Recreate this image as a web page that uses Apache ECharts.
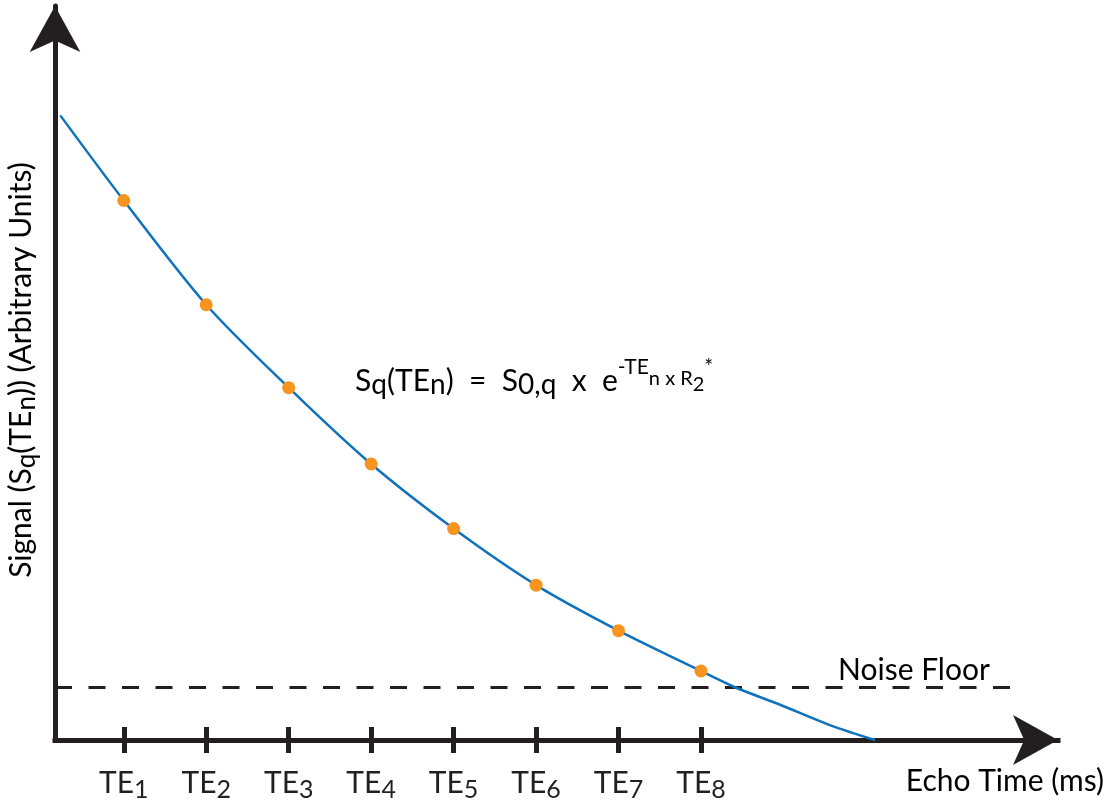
<!DOCTYPE html>
<html>
<head>
<meta charset="utf-8">
<script src="https://cdn.jsdelivr.net/npm/echarts@6/dist/echarts.min.js"></script>
<style>
html,body{margin:0;padding:0;background:#ffffff;}
#chart{width:1112px;height:803px;}
</style>
</head>
<body>
<div id="chart"></div>
<script>
// ---------- data ----------
const teValues = [1, 2, 3, 4, 5, 6, 7, 8];
const teSubscripts = ['1', '2', '3', '4', '5', '6', '7', '8'];
const sampleSignal = [73.5, 59.3, 48.0, 37.6, 28.8, 21.1, 14.9, 9.4];
const curveTE = [0.23, 1, 2, 3, 4, 5, 6, 7, 8, 8.42, 8.96, 9.57, 10.11];
const curveSignal = [85.1, 73.5, 59.3, 48.0, 37.6, 28.8, 21.1, 14.9, 9.4, 7.15, 4.8, 2.0, 0];
const noiseFloorTE = [0.166, 11.81];
const noiseFloorLevel = 7.15;
const xRange = [0.166, 12.33];
const yRange = [0, 100];

// ---------- style ----------
const INK = '#231f20';
const BLUE = '#0f72bd';
const ORANGE = '#f7941d';
const FONT = 'Lato';
const K = 0.387;   // baseline offset below em-middle, in em
const BOX = 80;    // common token box height so every token aligns identically

// rich token whose baseline sits dy px below the line top
function tok(fs, dy) {
  const top = Math.max(0, dy - (0.5 + K) * fs);
  return {
    fontSize: fs, fontFamily: FONT, color: INK, verticalAlign: 'top',
    padding: [top, 0, Math.max(0, BOX - fs - top), 0]
  };
}

const chart = echarts.init(document.getElementById('chart'), null, { renderer: 'canvas' });

const curveData = curveTE.map((x, i) => [x, curveSignal[i]]);
const sampleData = teValues.map((x, i) => [x, sampleSignal[i]]);
const noiseData = noiseFloorTE.map(x => [x, noiseFloorLevel]);

const axisBase = {
  type: 'value', min: xRange[0], max: xRange[1], position: 'bottom',
  splitLine: { show: false }
};

const option = {
  backgroundColor: '#ffffff',
  animation: false,
  grid: { left: 55, right: 54, top: 6, bottom: 63, containLabel: false, outerBoundsMode: 'none' },
  xAxis: [
    Object.assign({}, axisBase, {
      axisLine: {
        show: true, onZero: false,
        symbol: ['none', 'arrow'], symbolSize: [37.5, 45],
        lineStyle: { color: INK, width: 5, cap: 'square' }
      },
      axisTick: { show: true, customValues: teValues, length: 13, lineStyle: { color: INK, width: 5 } },
      axisLabel: {
        show: true, customValues: teValues, margin: 20,
        formatter: v => '{m|TE}{s|' + teSubscripts[teValues.indexOf(v)] + '}',
        rich: { m: tok(30, 35), s: tok(25, 40) }
      }
    }),
    Object.assign({}, axisBase, {
      axisLine: { show: false, onZero: false },
      axisTick: { show: true, inside: true, customValues: teValues, length: 13, lineStyle: { color: INK, width: 5 } },
      axisLabel: { show: false }
    })
  ],
  yAxis: {
    type: 'value', min: yRange[0], max: yRange[1],
    axisLine: {
      show: true, onZero: false,
      symbol: ['none', 'arrow'], symbolSize: [38, 46],
      lineStyle: { color: INK, width: 5 }
    },
    axisTick: { show: false },
    axisLabel: { show: false },
    splitLine: { show: false }
  },
  series: [
    {
      type: 'line', data: noiseData, symbol: 'none', z: 1,
      lineStyle: { color: INK, width: 3, type: [17, 16.5] }
    },
    {
      type: 'line', data: curveData, symbol: 'none', smooth: 0.3, z: 2,
      lineStyle: { color: BLUE, width: 2.5 }
    },
    {
      type: 'scatter', data: sampleData, symbol: 'circle', symbolSize: 13, z: 3,
      itemStyle: { color: ORANGE, opacity: 1 }
    }
  ],
  graphic: [
    {
      type: 'text', x: 838, y: 644, z: 10,
      style: { text: '{m|Noise Floor}', align: 'left', verticalAlign: 'top', rich: { m: tok(30, 37.7) } }
    },
    {
      type: 'text', x: 1104, y: 755, z: 10,
      style: { text: '{m|Echo Time (ms)}', align: 'right', verticalAlign: 'top', rich: { m: tok(30, 38) } }
    },
    {
      type: 'text', x: 355, y: 345, z: 10,
      style: {
        text: '{m|S}{s|q}{m|(TE}{s|n}{m|)  =  S}{s|0,q}{m|  x  e}{p|-TE}{q|n x R}{r|2}{p|*}',
        align: 'left', verticalAlign: 'top',
        rich: {
          m: tok(30, 48),
          s: tok(28, 51),
          p: tok(21, 30),
          q: tok(20, 41),
          r: tok(20, 47)
        }
      }
    },
    {
      type: 'text', x: 4, y: 370, rotation: Math.PI / 2, z: 10,
      style: {
        text: '{m|Signal (S}{s|q}{m|(TE}{s|n}{m|)) (Arbitrary Units)}',
        align: 'center', verticalAlign: 'top',
        rich: { m: tok(30, 29), s: tok(26, 33) }
      }
    }
  ]
};

chart.setOption(option);
</script>
</body>
</html>
